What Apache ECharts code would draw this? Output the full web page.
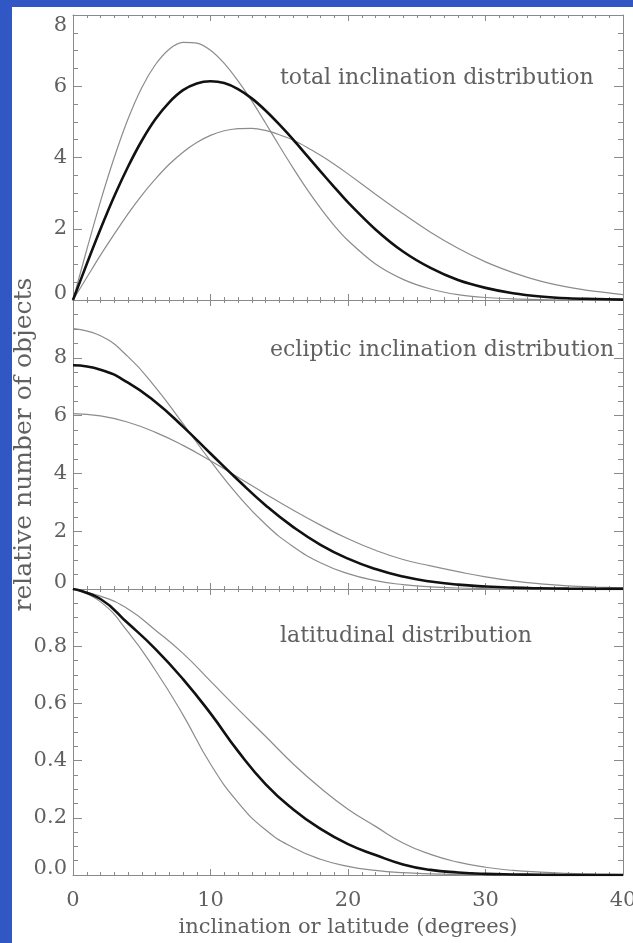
<!DOCTYPE html>
<html><head><meta charset="utf-8">
<script src="https://cdn.jsdelivr.net/npm/echarts@6/dist/echarts.min.js"></script>
<style>
html,body{margin:0;padding:0;background:#3157c4;overflow:hidden;}
#frame{position:absolute;left:12px;top:7px;width:621px;height:936px;background:#fff;}
#chart{width:621px;height:936px;}
</style></head><body>
<div id="frame"><div id="chart"></div></div>
<script>
// inclination samples (degrees) for the total-inclination panel
const totalInclination = [0,1,2,3,4,5,6,7,8,9,10,11,12,13,14,15,16,17,18,19,20,22,24,26,28,30,32,34,36,38,40];
const totalNarrow = [0,1.41,2.77,4.00,5.08,5.96,6.61,7.04,7.23,7.21,7.01,6.64,6.15,5.59,4.97,4.33,3.71,3.12,2.58,2.09,1.67,1.01,0.58,0.31,0.15,0.07,0.03,0.01,0,0,0];
const totalMean   = [0,1.01,1.99,2.91,3.74,4.47,5.08,5.55,5.89,6.08,6.14,6.09,5.92,5.66,5.32,4.93,4.51,4.06,3.61,3.17,2.74,1.98,1.36,0.90,0.56,0.34,0.19,0.10,0.05,0.03,0.01];
const totalWide   = [0,0.63,1.26,1.85,2.42,2.94,3.40,3.81,4.15,4.42,4.62,4.75,4.81,4.82,4.76,4.64,4.49,4.29,4.06,3.81,3.54,2.97,2.42,1.90,1.45,1.07,0.77,0.53,0.36,0.24,0.15];

// inclination / latitude samples (degrees) for the other two panels
const inclination = [0,2,4,6,8,10,12,14,16,18,20,22,24,26,28,30,32,34,36,38,40];

// ecliptic inclination distribution
const eclipticNarrow = [9.01,8.76,8.04,6.98,5.72,4.43,3.24,2.24,1.47,0.91,0.53,0.29,0.15,0.075,0.035,0.015,0.005,0,0,0,0];
const eclipticMean   = [7.74,7.59,7.14,6.47,5.62,4.69,3.77,2.90,2.15,1.53,1.05,0.69,0.43,0.26,0.15,0.086,0.046,0.024,0.012,0.006,0.003];
const eclipticWide   = [6.07,5.99,5.77,5.42,4.97,4.44,3.87,3.29,2.73,2.21,1.74,1.34,1.02,0.80,0.60,0.42,0.28,0.18,0.11,0.07,0.04];

// latitudinal distribution
const latitudeNarrow = [1.0,0.955,0.85,0.715,0.56,0.388,0.254,0.158,0.096,0.055,0.03,0.016,0.008,0.004,0.002,0.001,0,0,0,0,0];
const latitudeMean   = [1.0,0.965,0.88,0.79,0.685,0.565,0.433,0.318,0.23,0.161,0.108,0.07,0.037,0.018,0.009,0.004,0.002,0.001,0,0,0];
const latitudeWide   = [1.0,0.975,0.93,0.856,0.775,0.678,0.58,0.485,0.389,0.304,0.23,0.17,0.112,0.072,0.045,0.027,0.016,0.01,0.006,0.003,0.001];

// tick settings
const xMin = 0, xMax = 40, xStep = 10;
const panelRanges = [
  {min:0, max:8, interval:2, showMax:true, dec:0},
  {min:0, max:10, interval:2, showMax:false, dec:0},
  {min:0, max:1, interval:0.2, showMax:false, dec:1}
];
const panelTitles = ['total inclination distribution','ecliptic inclination distribution','latitudinal distribution'];
const xTitle = 'inclination or latitude (degrees)';
const yTitle = 'relative number of objects';

const FONT = 'DejaVu Serif';
const AXIS_COLOR = '#8a8a8a';
const TEXT_COLOR = '#606060';

const grids = [
  {left:61, right:10, top:8, height:285, outerBoundsMode:'none'},
  {left:61, right:10, top:293, height:289, outerBoundsMode:'none'},
  {left:61, right:10, top:582, height:286, outerBoundsMode:'none'}
];

const labelText = {color:TEXT_COLOR, fontFamily:FONT, fontSize:21};
const xAxes = [], yAxes = [];
grids.forEach((g, gi) => {
  ['bottom','top'].forEach(pos => {
    const showLabel = (gi === 2 && pos === 'bottom');
    const ax = {
      type:'value', gridIndex:gi, position:pos, min:xMin, max:xMax, interval:xStep,
      axisLine:{show:true, onZero:false, lineStyle:{color:AXIS_COLOR, width:1}},
      axisTick:{show:true, inside:true, length:6, lineStyle:{color:AXIS_COLOR}},
      minorTick:{show:true, splitNumber:10, length:3, lineStyle:{color:AXIS_COLOR}},
      splitLine:{show:false},
      axisLabel:Object.assign({show:showLabel, margin:15}, labelText)
    };
    if (showLabel) {
      ax.name = xTitle; ax.nameLocation = 'middle'; ax.nameGap = 42;
      ax.nameTextStyle = {color:TEXT_COLOR, fontFamily:FONT, fontSize:21};
    }
    xAxes.push(ax);
  });
  const r = panelRanges[gi];
  ['left','right'].forEach(pos => {
    const showLabel = pos === 'left';
    const ax = {
      type:'value', gridIndex:gi, position:pos, min:r.min, max:r.max, interval:r.interval,
      axisLine:{show:true, onZero:false, lineStyle:{color:AXIS_COLOR, width:1}},
      axisTick:{show:true, inside:true, length:9, lineStyle:{color:AXIS_COLOR}},
      minorTick:{show:true, splitNumber:4, length:5, lineStyle:{color:AXIS_COLOR}},
      splitLine:{show:false},
      axisLabel:Object.assign({
        show:showLabel, margin:6, showMaxLabel:r.showMax, showMinLabel:true,
        formatter: v => {
          const s = v.toFixed(r.dec);
          if (v === r.min) return '{lo|' + s + '}';
          if (v === r.max) return '{hi|' + s + '}';
          return s;
        },
        rich:{
          lo:Object.assign({padding:[0,0,12,0]}, labelText),
          hi:Object.assign({padding:[22,0,0,0]}, labelText)
        }
      }, labelText)
    };
    if (gi === 1 && showLabel) {
      ax.name = yTitle; ax.nameLocation = 'middle'; ax.nameGap = 36; ax.nameRotate = 90;
      ax.nameTextStyle = {color:TEXT_COLOR, fontFamily:FONT, fontSize:25};
    }
    yAxes.push(ax);
  });
});

const panels = [
  [totalInclination, [totalNarrow, totalMean, totalWide], 0.3],
  [inclination, [eclipticNarrow, eclipticMean, eclipticWide], 0.5],
  [inclination, [latitudeNarrow, latitudeMean, latitudeWide], 0.5]
];
const series = [];
panels.forEach(([xs, set, sm], gi) => {
  set.forEach((arr, k) => {
    const mean = k === 1;
    series.push({
      type:'line', xAxisIndex:gi*2, yAxisIndex:gi*2, showSymbol:false, symbol:'none',
      smooth:sm, clip:true, z: mean ? 5 : 3,
      lineStyle:{color: mean ? '#111' : '#8c8c8c', width: mean ? 2.6 : 1.2},
      data: xs.map((x, i) => [x, arr[i]]),
      silent:true
    });
  });
});

const labelPos = [[268,73],[258,345],[268,631]];
const graphics = panelTitles.map((t, i) => ({
  type:'text', left:labelPos[i][0], top:labelPos[i][1]-13,
  style:{text:t, fill:TEXT_COLOR, font:'22px "' + FONT + '"'}
}));

const chart = echarts.init(document.getElementById('chart'), null, {renderer:'canvas'});
chart.setOption({
  animation:false,
  backgroundColor:'#ffffff',
  grid:grids, xAxis:xAxes, yAxis:yAxes, series:series, graphic:graphics
});
</script>
</body></html>
